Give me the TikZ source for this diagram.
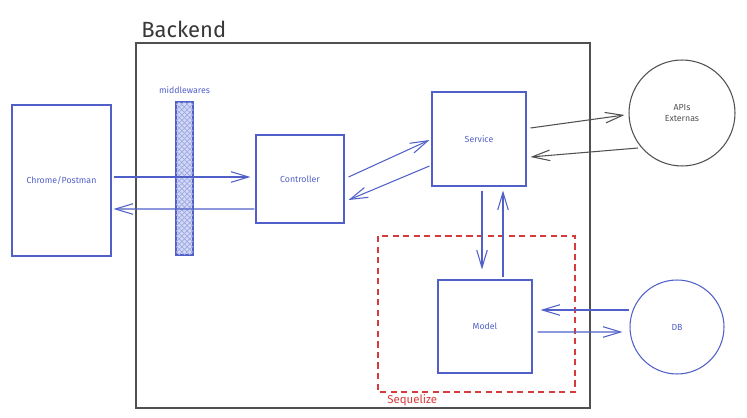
\documentclass[tikz,border=0pt]{standalone}
\usepackage{fontspec}
\setmainfont{Fira Sans}
\usepackage{tikz}
\usetikzlibrary{positioning,calc,arrows.meta,patterns}
\usepackage{xcolor}
\definecolor{inkblue}{HTML}{5060C8}
\definecolor{inkgray}{HTML}{505050}
\definecolor{inkred}{HTML}{D63A3A}
\definecolor{hatchbg}{HTML}{D3DAF7}

\tikzset{
  box/.style={draw=inkblue, line width=0.6pt, inner sep=0pt, font=\fontsize{5}{6}\selectfont, text=inkblue},
  bubble/.style={circle, draw, line width=0.6pt, inner sep=0pt, font=\fontsize{5}{6}\selectfont, align=center},
  flow/.style={line width=0.6pt, -{Straight Barb[length=10pt,width=6pt]}},
}

\begin{document}
\begin{tikzpicture}[x=0.02cm, y=-0.02cm]
  \useasboundingbox (0,0) rectangle (747,418);
  % backend frame and its title
  \draw[inkgray, line width=0.6pt] (136,43) rectangle (590,408);
  \node[anchor=base west, inner sep=0pt, text=inkgray!70!black] (title) at (141,38) {\fontsize{12.5}{15}\selectfont Backend};
  % client on the left
  \node[box, minimum width=1.98cm, minimum height=3.02cm] (chrome) at (61.5,180.5) {Chrome/Postman};
  % middleware layer: hatched bar
  \node[draw=inkblue, line width=0.6pt, fill=hatchbg, minimum width=0.34cm, minimum height=3.06cm, inner sep=0pt,
        postaction={pattern=north east lines, pattern color=inkblue!55},
        postaction={pattern=north west lines, pattern color=inkblue!55}] (mw) at (184.5,178.5) {};
  \node[above=1.5mm of mw, inner sep=0pt, text=inkblue, font=\fontsize{5}{6}\selectfont] (mwlabel) {middlewares};
  % layers inside the backend
  \node[box, minimum width=1.76cm, minimum height=1.76cm] (ctrl) at (300,179) {Controller};
  \node[box, minimum width=1.88cm, minimum height=1.88cm] (service) at (479,139) {Service};
  \node[box, minimum width=1.88cm, minimum height=1.86cm] (model) at (485,326.5) {Model};
  % ORM boundary
  \draw[inkred, line width=0.8pt, dash pattern=on 3.5pt off 2.5pt] (378,236) rectangle (575,392);
  \node[anchor=base west, inner sep=0pt, text=inkred, font=\fontsize{6.5}{8}\selectfont] (seq) at (387,403) {Sequelize};
  % outside services
  \node[bubble, draw=inkgray, text=inkgray, minimum size=2.12cm] (apis) at (682,113) {APIs\\Externas};
  \node[bubble, draw=inkblue, text=inkblue, minimum size=1.88cm] (db) at (677,327) {DB};
  % request / response between client and controller
  \draw[flow, inkblue] ($(chrome.east)+(2,-3.5)$) -- ($(ctrl.west)+(-5,-2)$);
  \draw[flow, inkblue] ($(ctrl.west)+(-1,30)$) -- ($(chrome.east)+(2,28.5)$);
  % controller <-> service
  \draw[flow, inkblue] ($(ctrl.east)+(4,-2)$) -- ($(service.west)+(-2,1)$);
  \draw[flow, inkblue] ($(service.west)+(-2,27)$) -- ($(ctrl.east)+(4,21)$);
  % service <-> external APIs
  \draw[flow, inkgray] ($(service.east)+(4,-11)$) -- ($(apis.west)+(-4,2)$);
  \draw[flow, inkgray] ($(apis.center)+(-44,35)$) -- ($(service.east)+(4,18)$);
  % service <-> model
  \draw[flow, inkblue] ($(service.south)+(3,4)$) -- ($(model.north)+(-3,-10)$);
  \draw[flow, inkblue] ($(model.north)+(18,-2)$) -- ($(service.south)+(24,4)$);
  % model <-> database
  \draw[flow, inkblue] ($(db.west)+(0,-17)$) -- ($(model.east)+(8,-16.5)$);
  \draw[flow, inkblue] ($(model.east)+(5,5.5)$) -- ($(db.west)+(-7,5)$);
\end{tikzpicture}
\end{document}
